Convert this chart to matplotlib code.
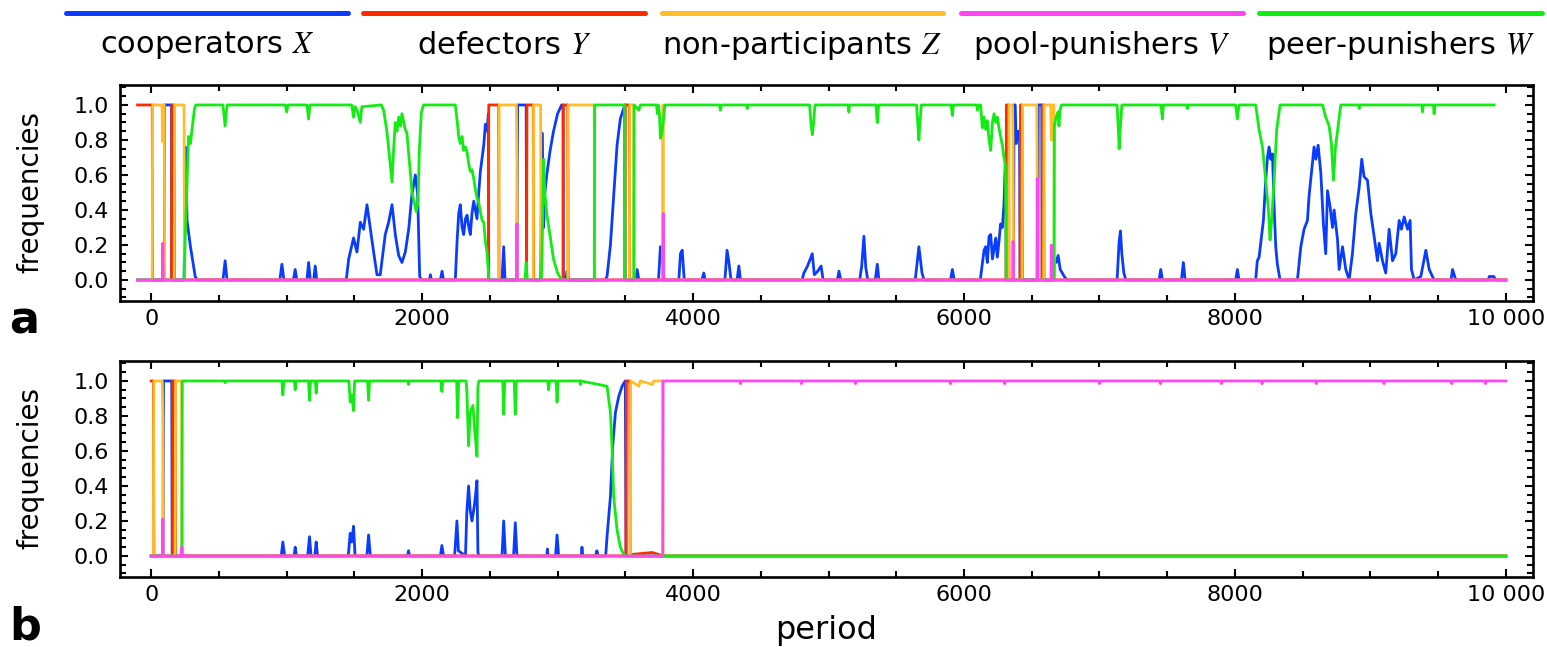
import matplotlib
matplotlib.use("Agg")
import matplotlib.pyplot as plt
from matplotlib.ticker import MultipleLocator, FixedLocator, FixedFormatter
from matplotlib.lines import Line2D

plt.rcParams['font.family'] = ['DejaVu Sans']
plt.rcParams['mathtext.fontset'] = 'stix'

# ---------------- colours / labels ----------------
names = ["cooperators $X$", "defectors $Y$", "non-participants $Z$",
         "pool-punishers $V$", "peer-punishers $W$"]
colors = ["#0a3cff", "#ff2a00", "#ffbe28", "#ff46f0", "#12ec12"]
xtick_vals = [0, 2000, 4000, 6000, 8000, 10000]
xtick_labels = ["0", "2000", "4000", "6000", "8000", "10 000"]
ytick_vals = [0.0, 0.2, 0.4, 0.6, 0.8, 1.0]
ytick_labels = ["0.0", "0.2", "0.4", "0.6", "0.8", "1.0"]

# ---------------- panel a data ----------------
a_X_t = [-100, 97, 100, 150, 153, 243, 253, 265, 290, 325, 340,
         530, 546, 560, 950, 965, 980, 1050, 1063, 1075, 1150, 1162, 1175, 1200, 1211, 1222,
         1440, 1458, 1494, 1519, 1544, 1568, 1593, 1618, 1642, 1667, 1691, 1728, 1753, 1778,
         1802, 1827, 1851, 1876, 1901, 1925, 1950, 1967, 1982, 1995,
         2055, 2061, 2068, 2135, 2147, 2158,
         2245, 2258, 2270, 2282, 2295, 2307, 2320, 2332, 2345, 2356, 2368, 2381, 2393, 2405,
         2418, 2430, 2443, 2455, 2467, 2480, 2489, 2492,
         2590, 2602, 2612, 2700, 2705, 2768, 2772,
         2875, 2885, 2897, 2905, 2920, 2945, 2970, 3000, 3030, 3040, 3043, 3060, 3070, 3080,
         3350, 3365, 3390, 3414, 3439, 3463, 3488, 3495, 3498,
         3575, 3587, 3600, 3745, 3759, 3775, 3785, 3895, 3907, 3920, 3935, 4065, 4079, 4090,
         4235, 4251, 4265, 4280, 4325, 4338, 4350,
         4805, 4818, 4845, 4880, 4895, 4920, 4945, 4960, 5065, 5077, 5090,
         5230, 5245, 5261, 5275, 5290, 5345, 5360, 5372, 5640, 5667, 5690, 5705, 5900, 5914, 5928,
         6120, 6135, 6148, 6160, 6172, 6185, 6197, 6210, 6222, 6234, 6246, 6258, 6270, 6283,
         6295, 6305, 6310, 6312,
         6366, 6369, 6378, 6385, 6400, 6410, 6414, 6545, 6548, 6574, 6577,
         6664, 6667, 6680, 6695, 6710, 6726, 6740, 6760,
         7130, 7145, 7155, 7165, 7180, 7195, 7440, 7452, 7465, 7605, 7619, 7632, 8005, 8018, 8030,
         8153, 8165, 8178, 8210, 8227, 8240, 8252, 8264, 8277, 8289, 8301, 8313, 8333,
         8461, 8486, 8510, 8535, 8547, 8572, 8584, 8597, 8614, 8634, 8653, 8670, 8683, 8702,
         8720, 8732, 8757, 8769, 8794, 8818, 8843, 8867, 8892, 8917, 8936, 8953, 8978, 9003,
         9027, 9052, 9064, 9089, 9113, 9138, 9163, 9187, 9212, 9229, 9249, 9274, 9293, 9303,
         9323, 9372, 9409, 9434, 9458, 9470, 9595, 9606, 9630, 9870, 9877, 9910, 9925, 10000]
a_X_v = [0, 0, 1, 1, 0, 0, 0.76, 0.34, 0.19, 0.02, 0,
         0, 0.11, 0, 0, 0.09, 0, 0, 0.06, 0, 0, 0.10, 0, 0, 0.08, 0,
         0, 0.12, 0.24, 0.16, 0.33, 0.29, 0.43, 0.29, 0.16, 0.03, 0.03, 0.26, 0.33, 0.43,
         0.26, 0.14, 0.10, 0.16, 0.29, 0.49, 0.60, 0.49, 0.02, 0,
         0, 0.03, 0, 0, 0.05, 0,
         0, 0.22, 0.38, 0.43, 0.30, 0.26, 0.35, 0.37, 0.30, 0.26, 0.38, 0.45, 0.40, 0.35,
         0.50, 0.62, 0.70, 0.77, 0.89, 0.85, 0.95, 0,
         0, 0.19, 0, 0, 1, 1, 0,
         0, 0.84, 0.30, 0.49, 0.60, 0.74, 0.85, 0.95, 1.0, 1.0, 0, 0, 0.05, 0,
         0, 0.02, 0.20, 0.48, 0.77, 0.92, 0.98, 1.0, 0,
         0, 0.06, 0, 0, 0.19, 0.15, 0, 0, 0.15, 0.17, 0, 0, 0.04, 0,
         0, 0.17, 0.10, 0, 0, 0.08, 0,
         0, 0.04, 0.08, 0.15, 0.03, 0.05, 0.08, 0, 0, 0.05, 0,
         0, 0.08, 0.25, 0.07, 0, 0, 0.09, 0, 0, 0.19, 0.04, 0, 0, 0.06, 0,
         0, 0.09, 0.17, 0.19, 0.10, 0.25, 0.26, 0.12, 0.18, 0.24, 0.13, 0.22, 0.32, 0.30,
         0.43, 0.68, 0.70, 0,
         0, 1.0, 1.0, 0.78, 0.85, 0.80, 0, 0, 1.0, 1.0, 0,
         0, 0.12, 0.10, 0.14, 0.06, 0.04, 0.02, 0,
         0, 0.22, 0.28, 0.15, 0.04, 0, 0, 0.06, 0, 0, 0.10, 0, 0, 0.06, 0,
         0, 0.11, 0.13, 0.34, 0.57, 0.70, 0.76, 0.69, 0.72, 0.42, 0.19, 0.09, 0,
         0, 0.19, 0.29, 0.34, 0.48, 0.67, 0.76, 0.69, 0.77, 0.61, 0.32, 0.15, 0.51, 0.42,
         0.30, 0.40, 0.23, 0.06, 0.19, 0.06, 0.0, 0.15, 0.38, 0.53, 0.69, 0.59, 0.57, 0.38,
         0.25, 0.11, 0.21, 0.11, 0.04, 0.29, 0.11, 0.15, 0.34, 0.29, 0.36, 0.29, 0.34, 0.06,
         0.0, 0.02, 0.17, 0.06, 0.02, 0.0, 0, 0.06, 0.0, 0, 0.02, 0.02, 0, 0]

a_Y_t = [-100, 8, 11, 150, 153, 170, 173, 2489, 2492, 2565, 2568, 2771, 2774, 2820, 2823,
         3040, 3043, 3075, 3078, 3497, 3500, 3530, 3533, 6310, 6313, 6329, 6332, 6414, 6417,
         6428, 6431, 6576, 6579, 6588, 6591, 10000]
a_Y_v = [1, 1, 0, 0, 1, 1, 0, 0, 1, 1, 0, 0, 1, 1, 0,
         0, 1, 1, 0, 0, 1, 1, 0, 0, 1, 1, 0, 0, 1,
         1, 0, 0, 1, 1, 0, 0]

a_Z_t = [-100, 8, 11, 80, 86, 92, 97, 100, 170, 173, 243, 246,
         2565, 2568, 2696, 2700, 2703, 2820, 2823, 2875, 2878, 3075, 3078, 3271, 3274,
         3530, 3533, 3562, 3565, 3775, 3778, 3781, 6329, 6332, 6358, 6362, 6366,
         6428, 6431, 6537, 6541, 6545, 6588, 6591, 6640, 6645, 6650, 6664, 6667, 10000]
a_Z_v = [0, 0, 1, 1, 0.79, 1, 1, 0, 0, 1, 1, 0,
         0, 1, 1, 0.68, 0, 0, 1, 1, 0, 0, 1, 1, 0,
         0, 1, 1, 0, 0, 1, 0, 0, 1, 1, 0.78, 0,
         0, 1, 1, 0.42, 0, 0, 1, 1, 0.8, 1, 1, 0, 0]

a_V_t = [-100, 83, 86, 89, 2697, 2700, 2703, 3777, 3780, 3783, 6359, 6362, 6365,
         6538, 6541, 6544, 6642, 6645, 6648, 10000]
a_V_v = [0, 0, 0.21, 0, 0, 0.32, 0, 0, 0.38, 0, 0, 0.22, 0,
         0, 0.58, 0, 0, 0.20, 0, 0]

a_W_t = [-100, 243, 250, 265, 276, 290, 300, 320, 330,
         530, 546, 560, 990, 1000, 1010, 1150, 1162, 1172, 1480, 1494, 1505, 1520, 1544, 1555, 1700,
         1716, 1740, 1760, 1778, 1790, 1802, 1815, 1827, 1840, 1851, 1865, 1876, 1888, 1901, 1915,
         1925, 1940, 1957, 1970, 1980, 1995, 2011,
         2245, 2260, 2270, 2282, 2295, 2307, 2320, 2332, 2345, 2356, 2368, 2381, 2393, 2405,
         2418, 2430, 2443, 2455, 2467, 2479, 2489, 2492,
         2760, 2768, 2776, 2880, 2885, 2897, 2905, 2920, 2945, 2970, 3000, 3030,
         3271, 3274, 3494, 3497,
         3562, 3565, 3600, 3610, 3730, 3737, 3744, 3752, 3759, 3770, 3782, 3792,
         4195, 4202, 4210, 4395, 4400, 4405,
         4860, 4870, 4880, 4890, 4900, 5145, 5150, 5155, 5350, 5360, 5370, 5650, 5660, 5667, 5675,
         5685, 5905, 5914, 5922, 6095, 6098, 6110, 6123,
         6135, 6148, 6160, 6172, 6185, 6197, 6210, 6222, 6234, 6246, 6258, 6270, 6283, 6295, 6305,
         6310, 6313,
         6664, 6667, 6680, 6695, 6701, 6708, 6720,
         7130, 7140, 7145, 7152, 7165, 7455, 7464, 7472, 7645, 7649, 7655, 8005, 8018, 8030,
         8153, 8178, 8203, 8227, 8247, 8259, 8271, 8289, 8308, 8333,
         8646, 8670, 8695, 8712, 8727, 8742, 8757, 8781,
         8912, 8917, 8922, 9380, 9384, 9390, 9465, 9470, 9476, 9913]
a_W_v = [0, 0, 0.2, 0.55, 0.82, 0.78, 0.85, 0.98, 1.0,
         1.0, 0.88, 1.0, 1.0, 0.96, 1.0, 1.0, 0.92, 1.0, 1.0, 0.93, 0.99, 0.97, 0.90, 0.99, 1.0,
         0.97, 0.85, 0.70, 0.56, 0.75, 0.90, 0.85, 0.93, 0.88, 0.95, 0.90, 0.86, 0.84, 0.72, 0.60,
         0.50, 0.45, 0.39, 0.45, 0.75, 0.96, 1.0,
         1.0, 0.90, 0.82, 0.78, 0.82, 0.74, 0.76, 0.73, 0.66, 0.62, 0.63, 0.58, 0.52, 0.47,
         0.44, 0.39, 0.34, 0.33, 0.22, 0.16, 0.05, 0,
         0, 0.1, 0, 0, 0.14, 0.69, 0.50, 0.38, 0.25, 0.12, 0.04, 0,
         0, 1.0, 1.0, 0,
         0, 1.0, 0.97, 1.0, 1.0, 0.95, 1.0, 0.95, 0.81, 0.84, 0.92, 1.0,
         1.0, 0.97, 1.0, 1.0, 0.98, 1.0,
         1.0, 0.9, 0.83, 0.9, 1.0, 1.0, 0.96, 1.0, 1.0, 0.90, 1.0, 1.0, 0.88, 0.80, 0.9,
         1.0, 1.0, 0.94, 1.0, 1.0, 0.97, 1.0, 1.0,
         0.87, 0.93, 0.86, 0.91, 0.80, 0.74, 0.90, 0.95, 0.90, 0.93, 0.87, 0.82, 0.77, 0.70, 0.66,
         0.30, 0,
         0, 0.88, 0.93, 0.96, 0.88, 0.97, 1.0,
         1.0, 0.85, 0.75, 0.85, 1.0, 1.0, 0.92, 1.0, 1.0, 0.98, 1.0, 1.0, 0.92, 1.0,
         1.0, 0.86, 0.76, 0.57, 0.40, 0.23, 0.34, 0.57, 0.86, 1.0,
         1.0, 0.93, 0.88, 0.78, 0.57, 0.76, 0.85, 1.0,
         1.0, 0.98, 1.0, 1.0, 0.96, 1.0, 1.0, 0.95, 1.0, 1.0]

# ---------------- panel b data ----------------
b_X_t = [0, 88, 91, 152, 155,
         960, 972, 985, 1055, 1063, 1072, 1155, 1169, 1180, 1208, 1218, 1228,
         1455, 1469, 1480, 1494, 1505, 1592, 1605, 1618,
         1892, 1900, 1908, 2135, 2146, 2158, 2240, 2257, 2268, 2320, 2330, 2343, 2355, 2368,
         2388, 2405, 2412, 2420,
         2590, 2602, 2615, 2675, 2688, 2700, 2920, 2925, 2930, 2985, 2996, 3008,
         3175, 3180, 3186, 3280, 3290, 3300,
         3355, 3365, 3390, 3407, 3427, 3451, 3476, 3500, 3505, 10000]
b_X_v = [0, 0, 1, 1, 0,
         0, 0.08, 0, 0, 0.05, 0, 0, 0.11, 0, 0, 0.08, 0,
         0, 0.13, 0.08, 0.17, 0, 0, 0.12, 0,
         0, 0.03, 0, 0, 0.06, 0, 0, 0.20, 0.03, 0, 0.25, 0.40, 0.26, 0.20,
         0.30, 0.43, 0.02, 0,
         0, 0.20, 0, 0, 0.19, 0, 0, 0.04, 0, 0, 0.12, 0,
         0, 0.05, 0, 0, 0.03, 0,
         0, 0.11, 0.34, 0.63, 0.82, 0.91, 0.97, 1.0, 0, 0]

b_Y_t = [0, 17, 20, 157, 160, 177, 180, 3505, 3508, 3533, 3536, 3560, 3700, 3779, 10000]
b_Y_v = [1, 1, 0, 0, 1, 1, 0, 0, 1, 1, 0, 0.01, 0.02, 0.0, 0]

b_Z_t = [0, 17, 20, 82, 86, 90, 177, 180, 224, 227,
         3536, 3539, 3600, 3610, 3700, 3710, 3776, 3779, 10000]
b_Z_v = [0, 0, 1, 1, 0.79, 0, 0, 1, 1, 0,
         0, 1, 0.97, 1, 0.98, 1, 1, 0, 0]

b_V_t = [0, 83, 86, 89, 224, 227, 230, 3776, 3779,
         4345, 4350, 4355, 4795, 4800, 4805, 5195, 5200, 5205, 5895, 5900, 5905,
         6295, 6300, 6305, 6995, 7000, 7005, 7445, 7450, 7455, 7895, 7900, 7905,
         8195, 8200, 8205, 8595, 8600, 8605, 9095, 9100, 9105, 9595, 9600, 9605,
         9845, 9850, 9855, 10000]
b_V_v = [0, 0, 0.21, 0, 0, 0.05, 0, 0, 1,
         1, 0.985, 1, 1, 0.985, 1, 1, 0.985, 1, 1, 0.985, 1,
         1, 0.985, 1, 1, 0.985, 1, 1, 0.985, 1, 1, 0.985, 1,
         1, 0.985, 1, 1, 0.985, 1, 1, 0.985, 1, 1, 0.985, 1,
         1, 0.985, 1, 1]

b_W_t = [0, 227, 230, 540, 546, 552, 965, 972, 980, 1058, 1063, 1068, 1162, 1169, 1176,
         1212, 1218, 1224, 1460, 1469, 1480, 1494, 1502, 1598, 1605, 1612, 1896, 1900, 1905,
         2140, 2146, 2152, 2255, 2262, 2270, 2325, 2330, 2343, 2355, 2375, 2388, 2405, 2412, 2420,
         2595, 2602, 2610, 2680, 2688, 2696, 2928, 2934, 2940, 2990, 2996, 3003, 3165, 3168, 3172,
         3365, 3390, 3402, 3414, 3439, 3463, 3488, 3500, 10000]
b_W_v = [0, 0, 1, 1, 0.99, 1, 1, 0.92, 1, 1, 0.95, 1, 1, 0.89, 1,
         1, 0.93, 1, 1, 0.88, 0.92, 0.83, 1, 1, 0.89, 1, 1, 0.98, 1,
         1, 0.94, 1, 1, 0.79, 1, 1, 0.95, 0.63, 0.82, 0.86, 0.72, 0.57, 0.97, 1,
         1, 0.81, 1, 1, 0.81, 1, 1, 0.95, 1, 1, 0.88, 1, 1, 0.98, 1,
         0.97, 0.82, 0.63, 0.34, 0.15, 0.05, 0.01, 0, 0]

# ---------------- figure ----------------
W, H = 1547, 647
fig = plt.figure(figsize=(W / 100, H / 100), dpi=100)


def box(l, t, r, b):
    return [l / W, 1 - b / H, (r - l) / W, (b - t) / H]


def style(ax):
    ax.set_xlim(-230, 10200)
    ax.set_ylim(-0.12, 1.114)
    ax.xaxis.set_major_locator(FixedLocator(xtick_vals))
    ax.xaxis.set_major_formatter(FixedFormatter(xtick_labels))
    ax.xaxis.set_minor_locator(MultipleLocator(500))
    ax.yaxis.set_major_locator(FixedLocator(ytick_vals))
    ax.yaxis.set_major_formatter(FixedFormatter(ytick_labels))
    ax.yaxis.set_minor_locator(MultipleLocator(0.05))
    ax.tick_params(which='both', direction='in', top=True, right=True, width=1.5, labelsize=16)
    ax.tick_params(which='major', length=6)
    ax.tick_params(which='minor', length=4)
    ax.tick_params(axis='y', pad=8)
    ax.tick_params(axis='x', pad=6)
    for s in ax.spines.values():
        s.set_linewidth(1.9)


panels = [
    (box(120, 85, 1533, 301), [(a_X_t, a_X_v), (a_Y_t, a_Y_v), (a_Z_t, a_Z_v), (a_W_t, a_W_v), (a_V_t, a_V_v)]),
    (box(120, 361, 1533, 577), [(b_X_t, b_X_v), (b_Y_t, b_Y_v), (b_Z_t, b_Z_v), (b_W_t, b_W_v), (b_V_t, b_V_v)]),
]
order_colors = [colors[0], colors[1], colors[2], colors[4], colors[3]]
for rect, series in panels:
    ax = fig.add_axes(rect)
    for (t, v), c in zip(series, order_colors):
        ax.plot(t, v, color=c, lw=2.0)
    style(ax)

# y labels
fig.text(30 / W, 1 - 192 / H, "frequencies", rotation=90, ha='center', va='center', fontsize=20)
fig.text(30 / W, 1 - 468 / H, "frequencies", rotation=90, ha='center', va='center', fontsize=20)
# x label
fig.text(826 / W, 1 - 631 / H, "period", ha='center', va='center', fontsize=23)
# panel letters
fig.text(9 / W, 1 - 333 / H, "a", ha='left', va='baseline', fontsize=32, fontweight='bold')
fig.text(9 / W, 1 - 640 / H, "b", ha='left', va='baseline', fontsize=32, fontweight='bold')

# legend across the top
seg = [(66, 348), (363, 645), (662, 943), (961, 1243), (1259, 1542)]
for (x0, x1), c, name in zip(seg, colors, names):
    fig.add_artist(Line2D([x0 / W, x1 / W], [1 - 13 / H, 1 - 13 / H], color=c, lw=3.6,
                          solid_capstyle='round', transform=fig.transFigure))
    fig.text((x0 + x1) / 2 / W, 1 - 45 / H, name, ha='center', va='center', fontsize=22)

fig.savefig("out.png", dpi=100)
